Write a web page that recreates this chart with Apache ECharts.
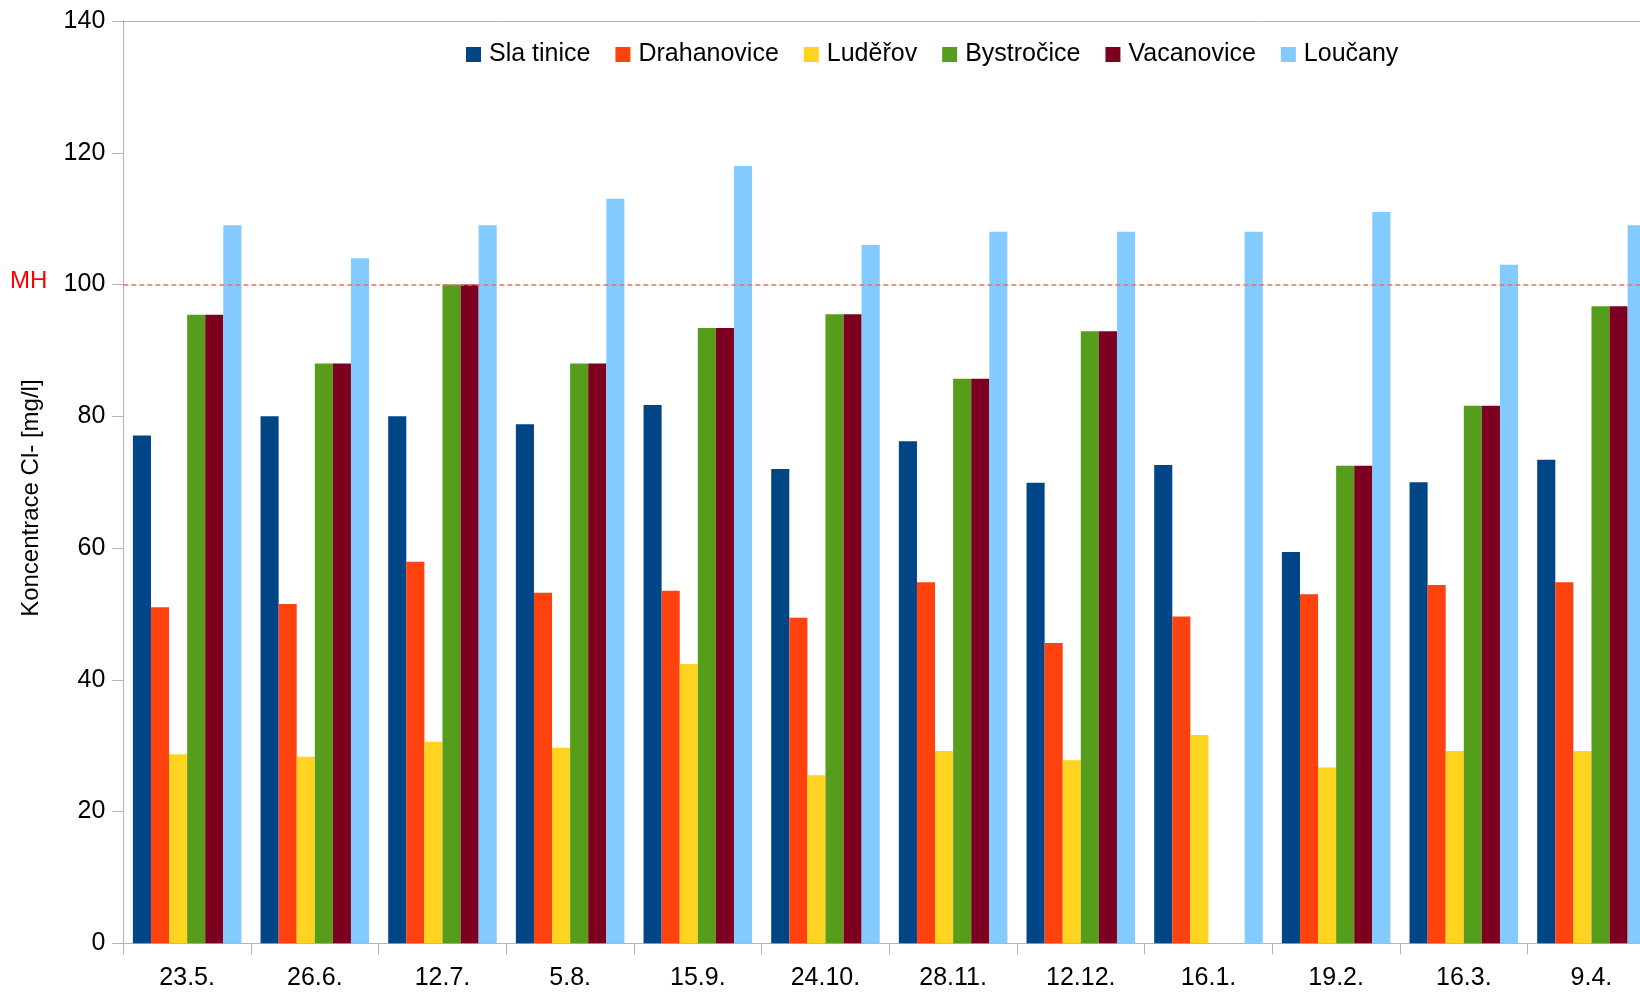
<!DOCTYPE html>
<html>
<head>
<meta charset="utf-8">
<title>Koncentrace Cl-</title>
<script src="https://cdn.jsdelivr.net/npm/echarts@6/dist/echarts.min.js"></script>
<style>
  html, body { margin: 0; padding: 0; background: #ffffff; }
  #chart { width: 1640px; height: 992px; }
</style>
</head>
<body>
<div id="chart"></div>
<script>
// Sampling dates
const categories = ['23.5.', '26.6.', '12.7.', '5.8.', '15.9.', '24.10.', '28.11.', '12.12.', '16.1.', '19.2.', '16.3.', '9.4.'];

// Chloride concentration per station [mg/l]
const slaTinice   = [77.1, 80.0, 80.0, 78.8, 81.7, 72.0, 76.2, 69.9, 72.6, 59.4, 70.0, 73.4];
const drahanovice = [51.0, 51.5, 57.9, 53.2, 53.5, 49.4, 54.8, 45.6, 49.6, 53.0, 54.4, 54.8];
const luderov     = [28.7, 28.3, 30.6, 29.7, 42.4, 25.5, 29.2, 27.8, 31.6, 26.7, 29.2, 29.2];
const bystrocice  = [95.4, 88.0, 100.0, 88.0, 93.4, 95.5, 85.7, 92.9, null, 72.5, 81.6, 96.7];
const vacanovice  = [95.4, 88.0, 100.0, 88.0, 93.4, 95.5, 85.7, 92.9, null, 72.5, 81.6, 96.7];
const loucany     = [109, 104, 109, 113, 118, 106, 108, 108, 108, 111, 103, 109];

// Limit value (MH)
const limitValue = 100;
const limitLabel = 'MH';

const yTicks = { min: 0, max: 140, interval: 20 };

const seriesNames = ['Sla tinice', 'Drahanovice', 'Luděřov', 'Bystročice', 'Vacanovice', 'Loučany'];
const seriesValues = [slaTinice, drahanovice, luderov, bystrocice, vacanovice, loucany];
const seriesColors = ['#004586', '#ff420e', '#ffd320', '#579d1c', '#7e0021', '#83caff'];

const FONT = '"Liberation Sans", Arial, sans-serif';
const AXIS_GRAY = '#b3b3b3';

const series = seriesNames.map((name, i) => ({
  name: name,
  type: 'bar',
  data: seriesValues[i],
  barGap: 0,
  barCategoryGap: '15%',
  itemStyle: { color: seriesColors[i] },
  emphasis: { disabled: true },
  animation: false
}));

// dashed limit line with its label on the left
series[0].markLine = {
  silent: true,
  symbol: ['none', 'none'],
  lineStyle: { color: '#ee6e5e', type: [5, 3], width: 1.5 },
  label: {
    show: true,
    position: 'start',
    formatter: limitLabel,
    color: '#ff0000',
    fontFamily: FONT,
    fontSize: 24,
    distance: 76,
    offset: [0, -3]
  },
  data: [{ yAxis: limitValue }],
  animation: false
};

const chart = echarts.init(document.getElementById('chart'), null, { renderer: 'canvas' });

chart.setOption({
  backgroundColor: '#ffffff',
  animation: false,
  textStyle: { fontFamily: FONT },
  color: seriesColors,
  legend: {
    data: seriesNames,
    left: 466,
    top: 42,
    padding: 0,
    icon: 'rect',
    itemWidth: 15,
    itemHeight: 15,
    itemGap: 25,
    selectedMode: false,
    textStyle: { fontFamily: FONT, fontSize: 25, color: '#000000', padding: [0, 0, 0, 3] }
  },
  // plot area runs slightly past the right edge of the canvas
  grid: {
    left: 123.3,
    top: 21,
    width: 1532,
    bottom: 48.7,
    containLabel: false,
    outerBoundsMode: 'none'
  },
  xAxis: [
    {
      type: 'category',
      data: categories,
      position: 'bottom',
      axisLine: { show: true, lineStyle: { color: AXIS_GRAY, width: 1 } },
      axisTick: { show: true, length: 11, lineStyle: { color: AXIS_GRAY } },
      axisLabel: { color: '#000000', fontFamily: FONT, fontSize: 25, margin: 22 },
      splitLine: { show: false }
    },
    {
      type: 'category',
      data: categories,
      position: 'top',
      axisLine: { show: true, lineStyle: { color: AXIS_GRAY, width: 1 } },
      axisTick: { show: false },
      axisLabel: { show: false },
      splitLine: { show: false }
    }
  ],
  yAxis: {
    type: 'value',
    min: yTicks.min,
    max: yTicks.max,
    interval: yTicks.interval,
    name: 'Koncentrace Cl- [mg/l]',
    nameLocation: 'middle',
    nameGap: 80,
    nameTextStyle: { color: '#000000', fontFamily: FONT, fontSize: 24, padding: [0, 32, 0, 0] },
    axisLine: { show: true, lineStyle: { color: AXIS_GRAY, width: 1 } },
    axisTick: { show: true, length: 11, lineStyle: { color: AXIS_GRAY } },
    axisLabel: { color: '#000000', fontFamily: FONT, fontSize: 25, margin: 18 },
    splitLine: { show: false }
  },
  series: series
});
</script>
</body>
</html>
